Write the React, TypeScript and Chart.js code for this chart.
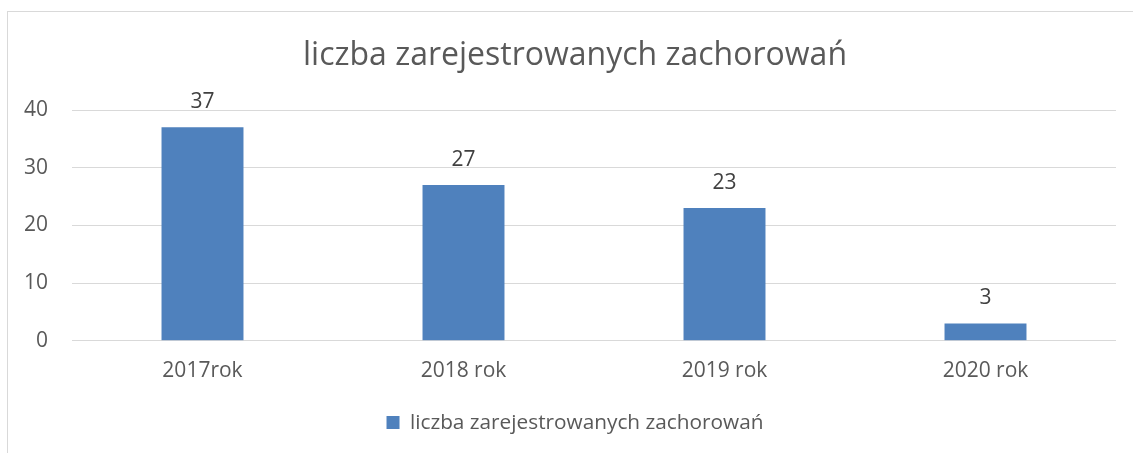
import React, { useEffect, useRef } from "react";
import { Chart, registerables } from "chart.js";

Chart.register(...registerables);

const categories = ["2017rok", "2018 rok", "2019 rok", "2020 rok"];
const seriesName = "liczba zarejestrowanych zachorowań";
const seriesValues = [37, 27, 23, 3];
const chartTitle = "liczba zarejestrowanych zachorowań";
const yTicks = [0, 10, 20, 30, 40];

const FONT = "'Open Sans', sans-serif";
const TEXT = "#595959";
const GRID = "#d9d9d9";
const BAR = "#4f81bd";

const valueLabels = {
  id: "valueLabels",
  afterDatasetsDraw(chart: any) {
    const ctx = chart.ctx;
    ctx.save();
    ctx.font = `21px ${FONT}`;
    ctx.fillStyle = "#404040";
    ctx.textAlign = "center";
    ctx.textBaseline = "alphabetic";
    chart.getDatasetMeta(0).data.forEach((el: any, i: number) => {
      ctx.fillText(String(seriesValues[i]), el.x, el.y - 19);
    });
    ctx.restore();
  },
};

export default function App() {
  const ref = useRef<HTMLCanvasElement>(null);
  useEffect(() => {
    if (!ref.current) return;
    const chart = new Chart(ref.current, {
      type: "bar",
      data: {
        labels: categories,
        datasets: [
          {
            label: seriesName,
            data: seriesValues,
            backgroundColor: BAR,
            categoryPercentage: 1,
            barPercentage: 0.314,
          },
        ],
      },
      options: {
        responsive: false,
        animation: false,
        layout: { padding: { left: 17, right: 0, top: 0, bottom: 10 } },
        scales: {
          x: {
            grid: { display: false },
            border: { display: false },
            ticks: { font: { family: FONT, size: 21 }, color: TEXT, padding: 10 },
            afterFit: (s: any) => {
              s.height = 61.4;
            },
          },
          y: {
            min: 0,
            max: 40,
            afterBuildTicks: (s: any) => {
              s.ticks = yTicks.map((v) => ({ value: v }));
            },
            grid: { color: GRID, lineWidth: 1, drawTicks: false },
            border: { display: false },
            ticks: { font: { family: FONT, size: 21 }, color: TEXT, padding: 24 },
            afterFit: (s: any) => {
              s.width = 55;
            },
          },
          yRightSpacer: {
            type: "linear",
            position: "right",
            display: true,
            grid: { display: false, drawTicks: false },
            border: { display: false },
            ticks: { display: false },
            afterFit: (s: any) => {
              s.width = 17;
            },
          },
        },
        plugins: {
          title: {
            display: true,
            text: chartTitle,
            color: TEXT,
            font: { family: FONT, size: 32, weight: "normal" },
            padding: { top: 36.8, bottom: 34.8 },
          },
          legend: {
            position: "bottom",
            labels: {
              boxWidth: 13,
              boxHeight: 13,
              color: TEXT,
              font: { family: FONT, size: 20.8 },
              padding: 10,
            },
          },
          tooltip: { enabled: false },
        },
      },
      plugins: [valueLabels],
    } as any);
    return () => chart.destroy();
  }, []);

  return (
    <div
      style={{
        position: "fixed",
        left: 0,
        top: 0,
        width: 1133,
        height: 453,
        overflow: "hidden",
        background: "#fff",
      }}
    >
      <div
        style={{
          position: "absolute",
          left: 7,
          top: 11,
          width: 1200,
          height: 500,
          border: `1px solid ${GRID}`,
        }}
      />
      <canvas
        ref={ref}
        width={1133}
        height={453}
        style={{ position: "absolute", left: 0, top: 0, width: 1133, height: 453 }}
      />
    </div>
  );
}
